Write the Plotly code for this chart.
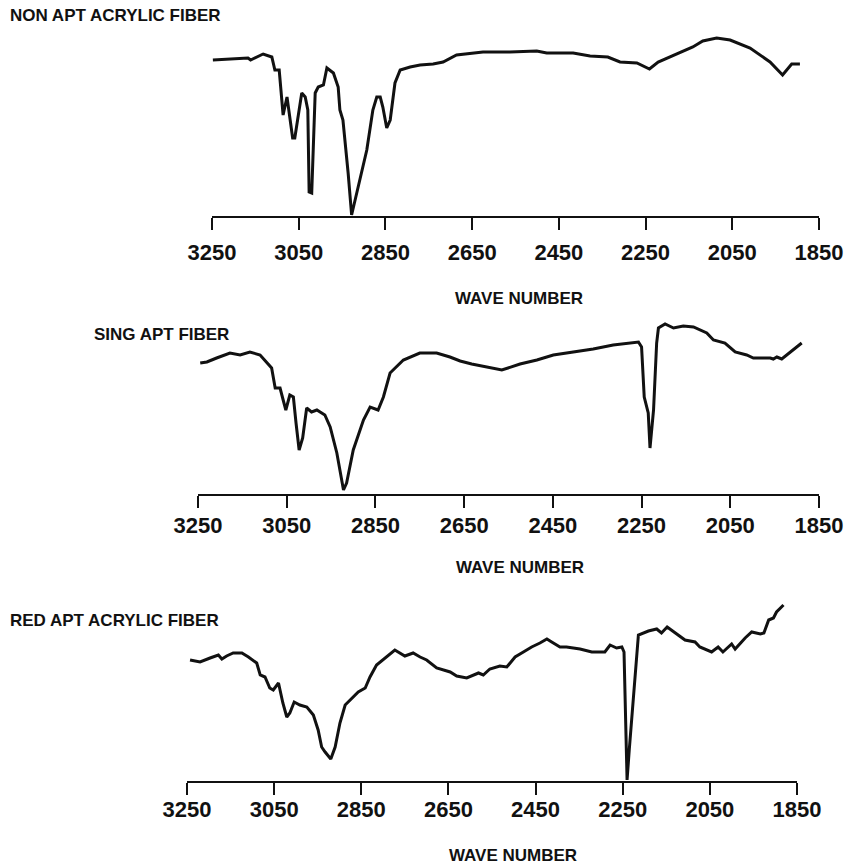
import plotly.graph_objects as go

W, H = 845, 864

# Wavenumber ticks shared by all three spectra
tick_values = [3250, 3050, 2850, 2650, 2450, 2250, 2050, 1850]
tick_labels = ["3250", "3050", "2850", "2650", "2450", "2250", "2050", "1850"]

panel_titles = ["NON APT ACRYLIC FIBER", "SING APT FIBER", "RED APT ACRYLIC FIBER"]
axis_title = "WAVE NUMBER"

# Spectrum 1: non-APT acrylic fiber (wavenumber, relative transmittance)
wn_non = [3248, 3202, 3167, 3161, 3132, 3112, 3105, 3095, 3086, 3077, 3064, 3059,
          3043, 3035, 3029, 3026, 3020, 3012, 3005, 2993, 2985, 2970, 2959, 2955,
          2948, 2936, 2928, 2893, 2879, 2870, 2862, 2856, 2847, 2839, 2828, 2816,
          2793, 2770, 2740, 2717, 2686, 2625, 2563, 2501, 2478, 2417, 2378, 2337,
          2309, 2270, 2241, 2221, 2178, 2141, 2118, 2086, 2055, 2009, 1963, 1934,
          1913, 1894]
tr_non = [156, 157, 158, 156, 162, 159, 146, 146, 101, 119, 78, 78,
          123, 119, 106, 24, 23, 123, 129, 131, 148, 143, 129, 106,
          96, 43, 1, 66, 106, 119, 119, 109, 88, 96, 133, 146,
          149, 151, 152, 154, 161, 164, 164, 165, 163, 163, 160, 159,
          154, 153, 147, 154, 162, 169, 175, 178, 176, 168, 154, 141,
          152, 152]

# Spectrum 2: single APT fiber
wn_sing = [3245, 3230, 3208, 3178, 3155, 3133, 3110, 3095, 3084, 3076, 3065, 3058,
           3052, 3043, 3035, 3029, 3022, 3014, 3005, 2994, 2982, 2964, 2952, 2937,
           2922, 2915, 2900, 2877, 2862, 2844, 2832, 2817, 2787, 2750, 2712, 2682,
           2659, 2633, 2599, 2565, 2524, 2486, 2449, 2404, 2359, 2314, 2283, 2257,
           2250, 2244, 2235, 2231, 2223, 2216, 2212, 2197, 2178, 2156, 2133, 2103,
           2088, 2062, 2039, 2013, 1998, 1960, 1953, 1945, 1934, 1915, 1889]
tr_sing = [131, 132, 136, 141, 139, 142, 139, 131, 126, 106, 106, 94,
           84, 99, 97, 71, 44, 56, 86, 82, 84, 79, 67, 41,
           4, 11, 44, 74, 87, 84, 97, 121, 134, 141, 141, 137,
           133, 130, 127, 124, 130, 134, 139, 142, 145, 149, 151, 152,
           147, 97, 81, 46, 84, 151, 166, 170, 166, 168, 167, 161,
           154, 151, 142, 139, 136, 136, 135, 137, 135, 142, 151]

# Spectrum 3: red APT acrylic fiber
wn_red = [3243, 3220, 3197, 3178, 3170, 3159, 3144, 3124, 3109, 3090, 3082, 3071,
          3060, 3052, 3040, 3030, 3021, 3014, 3004, 2991, 2975, 2960, 2949, 2941,
          2933, 2920, 2910, 2899, 2887, 2876, 2857, 2841, 2830, 2815, 2792, 2773,
          2750, 2731, 2715, 2700, 2677, 2646, 2631, 2608, 2581, 2570, 2555, 2532,
          2516, 2497, 2478, 2459, 2440, 2424, 2413, 2394, 2379, 2348, 2321, 2291,
          2279, 2264, 2252, 2247, 2240, 2235, 2214, 2191, 2172, 2161, 2148, 2126,
          2107, 2084, 2073, 2046, 2031, 2020, 2000, 1992, 1969, 1954, 1934, 1926,
          1915, 1904, 1897, 1881]
tr_red = [121, 119, 123, 126, 122, 125, 128, 128, 124, 118, 106, 104,
          93, 91, 98, 78, 64, 68, 79, 76, 74, 66, 51, 34,
          29, 22, 34, 58, 76, 81, 89, 93, 104, 116, 124, 131,
          125, 128, 124, 121, 113, 109, 105, 103, 108, 106, 112, 115,
          114, 124, 129, 134, 138, 142, 139, 134, 134, 132, 129, 129,
          136, 133, 134, 129, 1, 31, 146, 150, 152, 148, 154, 147,
          141, 139, 134, 129, 134, 129, 137, 132, 143, 149, 147, 148,
          161, 163, 169, 176]

spectra = [(wn_non, tr_non), (wn_sing, tr_sing), (wn_red, tr_red)]

# Pixel layout of each panel: x extent of the axis, y of the axis line,
# top of the plotting area, tick-label standoff, title and axis-title positions
panels = [
    dict(x0=212, x1=819, base=216, top=16, standoff=4,
         title_x=8, title_y=16, xt_x=519, xt_y=298),
    dict(x0=198, x1=819, base=494, top=314, standoff=-1,
         title_x=92, title_y=335, xt_x=520, xt_y=567),
    dict(x0=187, x1=797, base=781, top=591, standoff=-4,
         title_x=8, title_y=620, xt_x=513, xt_y=855),
]

ink = "#111111"
font_family = "Liberation Sans, Arial, sans-serif"
bold = lambda size: dict(family=font_family, size=size, color=ink, weight="bold")

fig = go.Figure()
layout = dict(
    template="none",
    width=W, height=H,
    margin=dict(l=0, r=0, t=0, b=0, pad=0, autoexpand=False),
    paper_bgcolor="white", plot_bgcolor="white",
    showlegend=False,
    annotations=[],
)

for i, ((wn, tr), p) in enumerate(zip(spectra, panels), start=1):
    xa = "x" if i == 1 else f"x{i}"
    ya = "y" if i == 1 else f"y{i}"
    fig.add_trace(go.Scatter(
        x=wn, y=tr, mode="lines", xaxis=xa, yaxis=ya,
        line=dict(color=ink, width=3), hoverinfo="skip",
    ))
    key = "" if i == 1 else str(i)
    layout[f"xaxis{key}"] = dict(
        domain=[p["x0"] / W, p["x1"] / W],
        range=[3250, 1850],
        anchor=ya,
        automargin=False,
        tickmode="array", tickvals=tick_values, ticktext=tick_labels,
        ticks="outside", ticklen=12, tickwidth=2, tickcolor=ink,
        showline=True, linewidth=2, linecolor=ink,
        showgrid=False, zeroline=False,
        ticklabelstandoff=p["standoff"],
        tickfont=bold(22),
    )
    layout[f"yaxis{key}"] = dict(
        domain=[(H - p["base"]) / H, (H - p["top"]) / H],
        range=[0, p["base"] - p["top"]],
        anchor=xa,
        automargin=False,
        visible=False,
    )
    # panel heading
    layout["annotations"].append(dict(
        text=panel_titles[i - 1], xref="paper", yref="paper",
        x=p["title_x"] / W, y=1 - p["title_y"] / H,
        xanchor="left", yanchor="middle", showarrow=False,
        font=bold(17),
    ))
    # x-axis caption
    layout["annotations"].append(dict(
        text=axis_title, xref="paper", yref="paper",
        x=p["xt_x"] / W, y=1 - p["xt_y"] / H,
        xanchor="center", yanchor="middle", showarrow=False,
        font=bold(17),
    ))

fig.update_layout(**layout)
fig.write_html("out.html")
